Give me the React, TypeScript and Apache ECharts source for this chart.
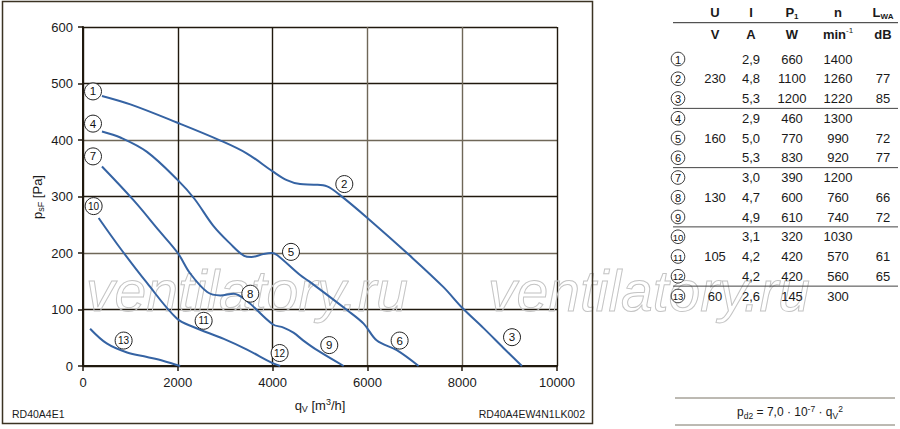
import React, { useEffect, useRef } from "react";
import * as echarts from "echarts";

const FONT = "'Liberation Sans', Arial, Helvetica, sans-serif";
const CURVE_COLOR = "#3563a3";
const DARK = "#20190e";
const GREY = "#6f6758";

// axis ticks
const xTickValues = [0, 2000, 4000, 6000, 8000, 10000];
const yTickValues = [0, 100, 200, 300, 400, 500, 600];

// characteristic curves [qV m3/h, psF Pa]
const curve123 = [
  [400, 478], [1000, 463], [1980, 431], [2900, 399], [3460, 376], [4010, 344],
  [4300, 329], [4580, 322], [4870, 321], [5150, 318], [5430, 302], [6000, 262],
  [6900, 195], [7600, 140], [8000, 103], [8450, 67], [8870, 32], [9260, 0],
];
const curve456 = [
  [400, 415], [800, 404], [1350, 379], [2000, 329], [2350, 296], [2750, 248],
  [3100, 217], [3400, 195], [3550, 193], [3800, 198], [3980, 200], [4100, 196],
  [4580, 161], [4800, 148], [5570, 99], [5920, 75], [6200, 45], [6620, 28], [7080, 0],
];
const curve789 = [
  [400, 353], [1070, 293], [1600, 240], [2000, 200], [2260, 164], [2620, 131],
  [2900, 125], [3180, 128], [3460, 115], [4000, 74], [4230, 68], [4440, 59],
  [4650, 45], [4940, 28], [5500, 0],
];
const curve101112 = [
  [330, 262], [790, 208], [1350, 147], [1980, 84], [2330, 69], [2970, 48],
  [3460, 29], [4000, 5], [4160, 0],
];
const curve13 = [
  [150, 66], [500, 40], [930, 24], [1350, 16], [1700, 9], [2050, 0],
];

// curve label anchors [label, qV, psF]
const labels123 = [["1", 211, 486], ["2", 5513, 322], ["3", 9051, 51]];
const labels456 = [["4", 211, 429], ["5", 4388, 202], ["6", 6680, 45]];
const labels789 = [["7", 211, 371], ["8", 3530, 128], ["9", 5196, 37]];
const labels101112 = [["10", 224, 283], ["11", 2545, 80], ["12", 4148, 23]];
const labels13 = [["13", 857, 45]];

// table
const tableU = ["", "230", "", "", "160", "", "", "130", "", "", "105", "", "60"];
const tableI = ["2,9", "4,8", "5,3", "2,9", "5,0", "5,3", "3,0", "4,7", "4,9", "3,1", "4,2", "4,2", "2,6"];
const tableP1 = ["660", "1100", "1200", "460", "770", "830", "390", "600", "610", "320", "420", "420", "145"];
const tableN = ["1400", "1260", "1220", "1300", "990", "920", "1200", "760", "740", "1030", "570", "560", "300"];
const tableLWA = ["", "77", "85", "", "72", "77", "", "66", "72", "", "61", "65", ""];
const groupEnds = [2, 5, 8, 11];

const xGridColors = [DARK, DARK, DARK, GREY, GREY, DARK];
const yGridColors = [DARK, DARK, GREY, DARK, GREY, DARK, DARK];

function buildGraphics() {
  const g: any[] = [];
  const txt = (x: number, y: number, text: string, extra: any = {}, z = 10) => ({
    type: "text",
    x,
    y,
    z,
    silent: true,
    style: {
      text,
      fontFamily: FONT,
      fontSize: 13,
      fill: "#1a1a1a",
      align: "center",
      verticalAlign: "middle",
      ...extra,
    },
  });

  // watermark
  ["ventilatory.ru", "ventilatory.ru"].forEach((w, i) => {
    g.push({
      type: "text",
      x: i === 0 ? 86 : 488,
      y: 291,
      z: 1,
      silent: true,
      style: {
        text: w,
        fontFamily: FONT,
        fontSize: 57,
        fontStyle: "italic",
        fill: "rgba(255,255,255,0)",
        stroke: "#c4c4c4",
        lineWidth: 1,
        align: "left",
        verticalAlign: "middle",
      },
    });
  });

  // outer frame of chart
  g.push({
    type: "rect",
    z: 10,
    silent: true,
    shape: { x: 2.5, y: 1.5, width: 590, height: 422 },
    style: { fill: "none", stroke: "#3b3323", lineWidth: 1.5 },
  });

  // axis names
  const richAxis = {
    a: { fontSize: 13, fontFamily: FONT, fill: "#1a1a1a", lineHeight: 16 },
    s: { fontSize: 9, fontFamily: FONT, fill: "#1a1a1a", lineHeight: 9, verticalAlign: "bottom" },
    p: { fontSize: 9, fontFamily: FONT, fill: "#1a1a1a", lineHeight: 9, verticalAlign: "top" },
  };
  g.push({
    type: "text",
    x: 37,
    y: 197,
    rotation: Math.PI / 2,
    z: 10,
    silent: true,
    style: { text: "{a|p}{s|sF}{a| [Pa]}", rich: richAxis, align: "center", verticalAlign: "middle" },
  });
  g.push({
    type: "text",
    x: 320,
    y: 405,
    z: 10,
    silent: true,
    style: { text: "{a|q}{s|V}{a| [m}{p|3}{a|/h]}", rich: richAxis, align: "center", verticalAlign: "middle" },
  });

  g.push(txt(12, 414, "RD40A4E1", { fontSize: 10.5, align: "left" }));
  g.push(txt(585, 414, "RD40A4EW4N1LK002", { fontSize: 10.5, align: "right" }));

  // table
  const colNum = 678, colU = 715, colI = 751, colP = 792, colN = 838, colL = 883;
  const lineX1 = 673, lineX2 = 898;
  const rowY = (i: number) => 59 + i * 19.75;
  const richHead = {
    a: { fontSize: 13, fontWeight: "bold", fontFamily: FONT, fill: "#1a1a1a", lineHeight: 16 },
    s: { fontSize: 8, fontWeight: "bold", fontFamily: FONT, fill: "#1a1a1a", lineHeight: 8, verticalAlign: "bottom" },
    p: { fontSize: 8, fontFamily: FONT, fill: "#1a1a1a", lineHeight: 8, verticalAlign: "top" },
  };
  const head = (x: number, y: number, t: string) => ({
    type: "text",
    x,
    y,
    z: 10,
    silent: true,
    style: { text: t, rich: richHead, align: "center", verticalAlign: "middle" },
  });
  g.push(head(colU, 12, "{a|U}"));
  g.push(head(colI, 12, "{a|I}"));
  g.push(head(colP, 12, "{a|P}{s|1}"));
  g.push(head(colN, 12, "{a|n}"));
  g.push(head(colL, 12, "{a|L}{s|WA}"));
  g.push(head(colU, 34, "{a|V}"));
  g.push(head(colI, 34, "{a|A}"));
  g.push(head(colP, 34, "{a|W}"));
  g.push(head(colN, 34, "{a|min}{p|-1}"));
  g.push(head(colL, 34, "{a|dB}"));
  g.push({
    type: "line",
    z: 10,
    silent: true,
    shape: { x1: lineX1, y1: 22.7, x2: lineX2, y2: 22.7 },
    style: { stroke: "#2a2a2a", lineWidth: 1 },
  });

  tableI.forEach((_, i) => {
    const y = rowY(i);
    g.push({
      type: "circle",
      z: 10,
      silent: true,
      shape: { cx: colNum, cy: y, r: 6.8 },
      style: { fill: "#fff", stroke: "#222", lineWidth: 0.9 },
    });
    g.push(
      txt(colNum, y + 0.5, String(i + 1), { fontSize: i >= 9 ? 9.5 : 11, fill: "#111" }, 11)
    );
    if (tableU[i]) g.push(txt(colU, y, tableU[i]));
    g.push(txt(colI, y, tableI[i]));
    g.push(txt(colP, y, tableP1[i]));
    g.push(txt(colN, y, tableN[i]));
    if (tableLWA[i]) g.push(txt(colL, y, tableLWA[i]));
  });
  groupEnds.forEach((i) => {
    const y = (rowY(i) + rowY(i + 1)) / 2;
    g.push({
      type: "line",
      z: 10,
      silent: true,
      shape: { x1: lineX1, y1: y, x2: lineX2, y2: y },
      style: { stroke: "#444", lineWidth: 1 },
    });
  });

  // formula
  [398, 425].forEach((y) =>
    g.push({
      type: "line",
      z: 10,
      silent: true,
      shape: { x1: 675, y1: y, x2: 895, y2: y },
      style: { stroke: "#7a7466", lineWidth: 1 },
    })
  );
  const richF = {
    a: { fontSize: 12, fontFamily: FONT, fill: "#1a1a1a", lineHeight: 16 },
    s: { fontSize: 8.5, fontFamily: FONT, fill: "#1a1a1a", lineHeight: 8, verticalAlign: "bottom" },
    p: { fontSize: 8.5, fontFamily: FONT, fill: "#1a1a1a", lineHeight: 8, verticalAlign: "top" },
  };
  g.push({
    type: "text",
    x: 790,
    y: 412,
    z: 10,
    silent: true,
    style: {
      text: "{a|p}{s|d2}{a| = 7,0 · 10}{p|-7}{a| · q}{s|V}{p|2}",
      rich: richF,
      align: "center",
      verticalAlign: "middle",
    },
  });
  return g;
}

const curves = [curve123, curve456, curve789, curve101112, curve13];
const curveLabels = [labels123, labels456, labels789, labels101112, labels13];

export default function App() {
  const ref = useRef<HTMLDivElement>(null);
  useEffect(() => {
    if (!ref.current) return;
    const chart = echarts.init(ref.current, undefined, { renderer: "svg" });
    const axisCommon = {
      type: "value",
      axisLine: { show: true, onZero: false, lineStyle: { color: DARK, width: 2 } },
      axisTick: { show: true, length: 5, inside: false, lineStyle: { color: DARK, width: 1.5 } },
      axisLabel: {
        margin: 10,
        fontSize: 13,
        color: "#1a1a1a",
        fontFamily: FONT,
        formatter: (v: number) => String(v),
      },
    };
    chart.setOption({
      animation: false,
      backgroundColor: "#ffffff",
      grid: { left: 83, right: 343, top: 27, bottom: 63, containLabel: false },
      xAxis: {
        ...axisCommon,
        min: xTickValues[0],
        max: xTickValues[xTickValues.length - 1],
        interval: xTickValues[1] - xTickValues[0],
        splitLine: { show: true, lineStyle: { color: xGridColors, width: 1.4 } },
      },
      yAxis: {
        ...axisCommon,
        min: yTickValues[0],
        max: yTickValues[yTickValues.length - 1],
        interval: yTickValues[1] - yTickValues[0],
        splitLine: { show: true, lineStyle: { color: yGridColors, width: 1.4 } },
      },
      series: curves.map((data, i) => ({
        type: "line",
        data,
        smooth: 0.35,
        symbol: "none",
        showSymbol: false,
        silent: true,
        z: 3,
        lineStyle: { color: CURVE_COLOR, width: 2 },
        markPoint: {
          symbol: "circle",
          symbolSize: 17,
          silent: true,
          itemStyle: { color: "#ffffff", borderColor: "#222", borderWidth: 1 },
          label: { show: true, position: "inside", formatter: "{b}", color: "#111", fontFamily: FONT },
          data: curveLabels[i].map(([n, x, y]) => ({
            name: n,
            coord: [x, y],
            label: { fontSize: String(n).length > 1 ? 10 : 11.5 },
          })),
        },
      })),
      graphic: { elements: buildGraphics() },
    });
    return () => chart.dispose();
  }, []);
  return (
    <div
      ref={ref}
      style={{ position: "absolute", left: 0, top: 0, width: 900, height: 429, background: "#fff" }}
    />
  );
}
